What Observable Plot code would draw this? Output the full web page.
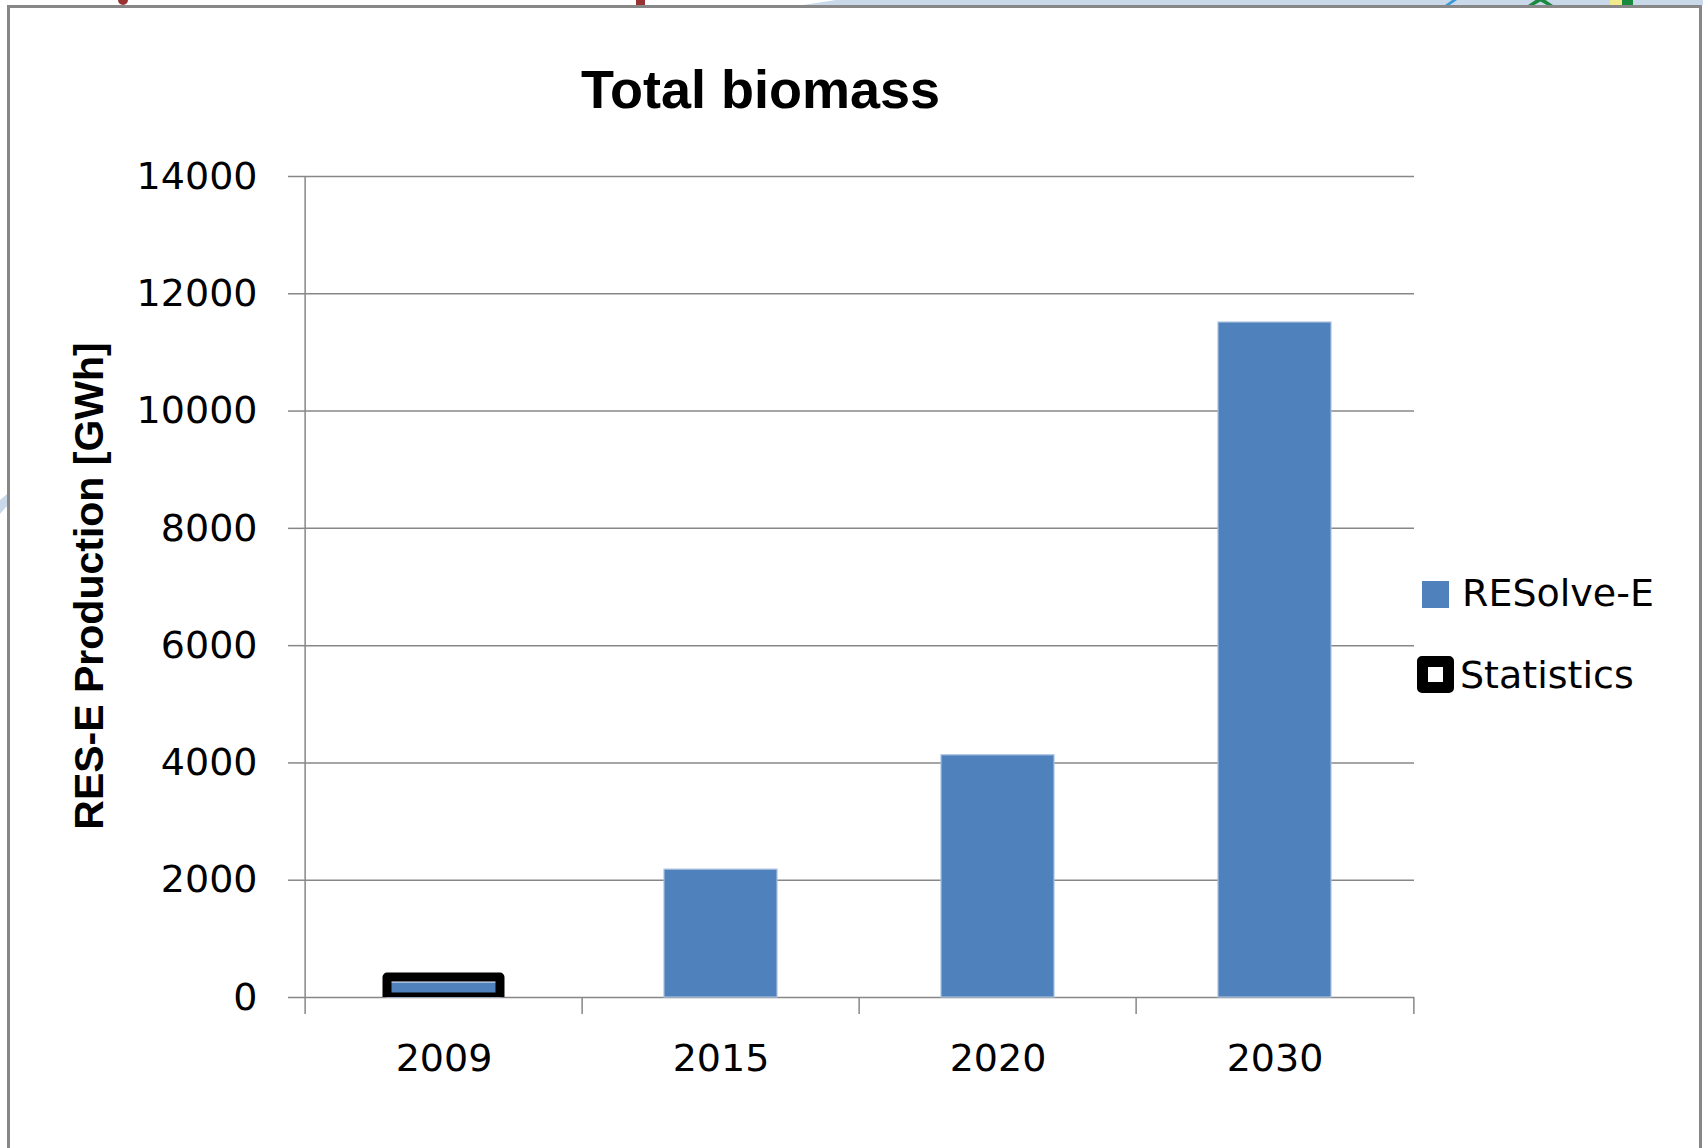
<!DOCTYPE html>
<html>
<head>
<meta charset="utf-8">
<script src="https://cdn.jsdelivr.net/npm/d3@7"></script>
<script src="https://cdn.jsdelivr.net/npm/@observablehq/plot@0.6"></script>
<style>
  html, body { margin: 0; padding: 0; background: #ffffff; }
  #page { position: relative; width: 1703px; height: 1148px; overflow: hidden; background: #ffffff; }
  .deco { position: absolute; }
  #panel {
    position: absolute; left: 7px; top: 5px; width: 1695px; height: 1170px;
    box-sizing: border-box; border: 3px solid #878787; background: #ffffff;
  }
  #chart { position: absolute; left: 0; top: 0; }
  #title {
    position: absolute; left: 581px; top: 62px; white-space: nowrap;
    font-family: "Liberation Sans", Arial, sans-serif; font-weight: bold;
    font-size: 54px; line-height: 1; color: #000;
  }
  #ytitle {
    position: absolute; left: 89px; top: 586px; white-space: nowrap;
    font-family: "Liberation Sans", Arial, sans-serif; font-weight: bold;
    font-size: 41px; line-height: 41px; height: 41px; color: #000;
    transform: translate(-50%, -50%) rotate(-90deg);
  }
  .legend-item {
    position: absolute; white-space: nowrap;
    font-family: "DejaVu Sans", sans-serif; font-size: 38px; color: #000;
    line-height: normal;
  }
  .swatch { position: absolute; box-sizing: border-box; }
</style>
</head>
<body>
<div id="page">
  <!-- slide background showing around the chart panel -->
  <div class="deco" style="left:780px;top:0;width:923px;height:5px;background:#c9d9ea;clip-path:polygon(56px 0,100% 0,100% 100%,23px 100%);"></div>
  <div class="deco" style="left:118px;top:0;width:10px;height:5px;background:#993333;border-radius:0 0 5px 5px;"></div>
  <div class="deco" style="left:636px;top:0;width:9px;height:5px;background:#993333;"></div>
  <div class="deco" style="left:1445px;top:0;width:12px;height:5px;background:#3a9ad9;clip-path:polygon(60% 0,100% 0,40% 100%,0 100%);"></div>
  <div class="deco" style="left:1528px;top:0;width:25px;height:5px;background:#1a8a3e;clip-path:polygon(30% 0,70% 0,100% 100%,75% 100%,50% 30%,25% 100%,0 100%);"></div>
  <div class="deco" style="left:1610px;top:0;width:12px;height:5px;background:#f3ea8c;"></div>
  <div class="deco" style="left:1622px;top:0;width:11px;height:5px;background:#1a8a3e;"></div>
  <div class="deco" style="left:0;top:494px;width:7px;height:20px;background:#c9d9ea;clip-path:polygon(0 30%,100% 0,100% 60%,0 100%);"></div>

  <div id="panel"></div>
  <div id="chart"></div>
  <div id="title">Total biomass</div>
  <div id="ytitle">RES-E Production [GWh]</div>

  <div class="swatch" style="left:1422px;top:581px;width:27px;height:27px;background:#4f81bd;"></div>
  <div class="legend-item" style="left:1462px;top:571px;">RESolve-E</div>
  <div class="swatch" style="left:1417px;top:656px;width:37px;height:37px;background:#ffffff;border:11px solid #000;border-radius:5px;"></div>
  <div class="legend-item" style="left:1460px;top:653px;">Statistics</div>
</div>

<script>
// Categories and series
const years = ["2009", "2015", "2020", "2030"];
const resolveE = [250, 2180, 4130, 11510];      // RESolve-E production, GWh
const statYears = ["2009"];
const statistics = [340];                        // Statistics, GWh
const yTicks = [0, 2000, 4000, 6000, 8000, 10000, 12000, 14000];

const resolveRows = years.map((year, i) => ({year, value: resolveE[i]}));
const statRows = statYears.map((year, i) => ({year, value: statistics[i]}));

const W = 1703, H = 1148;
const mLeft = 303, mRight = 289, mTop = 176, mBottom = 151;
const step = (W - mLeft - mRight) / years.length;   // width of one category slot
const gray = "#878787";

const chart = Plot.plot({
  width: W,
  height: H,
  marginLeft: mLeft,
  marginRight: mRight,
  marginTop: mTop,
  marginBottom: mBottom,
  style: {fontFamily: "DejaVu Sans, sans-serif", fontSize: "38px", color: "#000", background: "transparent", overflow: "visible"},
  x: {domain: years, paddingInner: 0.593, paddingOuter: 0.2965, axis: null},
  y: {domain: [0, 14000], axis: null},
  marks: [
    Plot.gridY(yTicks, {stroke: gray, strokeOpacity: 1, strokeWidth: 1.5}),
    Plot.axisY(yTicks, {
      tickSize: 15, tickPadding: 31, stroke: gray, strokeWidth: 1.5,
      fontSize: 38, tickFormat: d => String(d), label: null
    }),
    // vertical axis line on the left edge of the first category slot
    Plot.ruleX([years[0]], {x: d => d, dx: -step / 2, y1: 0, y2: 14000, stroke: gray, strokeWidth: 1.5}),
    // category separator ticks below the baseline
    Plot.axisX(years, {tickSize: 17, dx: -step / 2, tickFormat: () => "", stroke: gray, strokeWidth: 1.5, label: null}),
    Plot.axisX([years[years.length - 1]], {tickSize: 17, dx: step / 2, tickFormat: () => "", stroke: gray, strokeWidth: 1.5, label: null}),
    // category labels
    Plot.axisX(years, {tickSize: 0, tickPadding: 47, fontSize: 38, label: null}),
    Plot.barY(resolveRows, {x: "year", y: "value", fill: "#4f81bd", stroke: "#a9c1e0", strokeWidth: 1.2}),
    Plot.barY(statRows, {
      x: "year", y: "value", fill: "none", stroke: "#000",
      strokeWidth: 9, strokeLinejoin: "round", clip: true
    })
  ]
});

document.getElementById("chart").appendChild(chart);
</script>
</body>
</html>
